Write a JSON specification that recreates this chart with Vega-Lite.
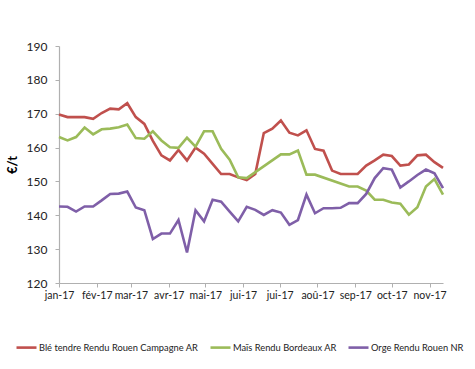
{
  "$schema": "https://vega.github.io/schema/vega-lite/v6.json",
  "autosize": {"type": "none"},
  "width": 384,
  "height": 237,
  "padding": {"left": 59, "top": 46, "right": 32, "bottom": 86},
  "background": "white",
  "config": {
    "view": {"stroke": null},
    "font": "Lato",
    "axis": {"grid": false, "domainColor": "#B0B0B0", "tickColor": "#B0B0B0", "labelColor": "#222", "labelFont": "Lato", "titleFont": "Lato", "domainWidth": 1.2}
  },
  "data": {
    "values": [
      {"date": "2017-01-01", "serie": "Blé tendre Rendu Rouen Campagne AR", "value": 169.8},
      {"date": "2017-01-08", "serie": "Blé tendre Rendu Rouen Campagne AR", "value": 169.0},
      {"date": "2017-01-15", "serie": "Blé tendre Rendu Rouen Campagne AR", "value": 169.0},
      {"date": "2017-01-22", "serie": "Blé tendre Rendu Rouen Campagne AR", "value": 169.0},
      {"date": "2017-01-29", "serie": "Blé tendre Rendu Rouen Campagne AR", "value": 168.5},
      {"date": "2017-02-05", "serie": "Blé tendre Rendu Rouen Campagne AR", "value": 170.2},
      {"date": "2017-02-12", "serie": "Blé tendre Rendu Rouen Campagne AR", "value": 171.5},
      {"date": "2017-02-19", "serie": "Blé tendre Rendu Rouen Campagne AR", "value": 171.3},
      {"date": "2017-02-26", "serie": "Blé tendre Rendu Rouen Campagne AR", "value": 173.1},
      {"date": "2017-03-05", "serie": "Blé tendre Rendu Rouen Campagne AR", "value": 169.0},
      {"date": "2017-03-12", "serie": "Blé tendre Rendu Rouen Campagne AR", "value": 167.0},
      {"date": "2017-03-19", "serie": "Blé tendre Rendu Rouen Campagne AR", "value": 162.0},
      {"date": "2017-03-26", "serie": "Blé tendre Rendu Rouen Campagne AR", "value": 157.7},
      {"date": "2017-04-02", "serie": "Blé tendre Rendu Rouen Campagne AR", "value": 156.2},
      {"date": "2017-04-09", "serie": "Blé tendre Rendu Rouen Campagne AR", "value": 159.3},
      {"date": "2017-04-16", "serie": "Blé tendre Rendu Rouen Campagne AR", "value": 156.2},
      {"date": "2017-04-23", "serie": "Blé tendre Rendu Rouen Campagne AR", "value": 160.0},
      {"date": "2017-04-30", "serie": "Blé tendre Rendu Rouen Campagne AR", "value": 158.2},
      {"date": "2017-05-07", "serie": "Blé tendre Rendu Rouen Campagne AR", "value": 155.2},
      {"date": "2017-05-14", "serie": "Blé tendre Rendu Rouen Campagne AR", "value": 152.2},
      {"date": "2017-05-21", "serie": "Blé tendre Rendu Rouen Campagne AR", "value": 152.2},
      {"date": "2017-05-28", "serie": "Blé tendre Rendu Rouen Campagne AR", "value": 151.2},
      {"date": "2017-06-04", "serie": "Blé tendre Rendu Rouen Campagne AR", "value": 150.4},
      {"date": "2017-06-11", "serie": "Blé tendre Rendu Rouen Campagne AR", "value": 152.2},
      {"date": "2017-06-18", "serie": "Blé tendre Rendu Rouen Campagne AR", "value": 164.3},
      {"date": "2017-06-25", "serie": "Blé tendre Rendu Rouen Campagne AR", "value": 165.6},
      {"date": "2017-07-02", "serie": "Blé tendre Rendu Rouen Campagne AR", "value": 168.0},
      {"date": "2017-07-09", "serie": "Blé tendre Rendu Rouen Campagne AR", "value": 164.4},
      {"date": "2017-07-16", "serie": "Blé tendre Rendu Rouen Campagne AR", "value": 163.6},
      {"date": "2017-07-23", "serie": "Blé tendre Rendu Rouen Campagne AR", "value": 165.1},
      {"date": "2017-07-30", "serie": "Blé tendre Rendu Rouen Campagne AR", "value": 159.6},
      {"date": "2017-08-06", "serie": "Blé tendre Rendu Rouen Campagne AR", "value": 159.1},
      {"date": "2017-08-13", "serie": "Blé tendre Rendu Rouen Campagne AR", "value": 153.2},
      {"date": "2017-08-20", "serie": "Blé tendre Rendu Rouen Campagne AR", "value": 152.2},
      {"date": "2017-08-27", "serie": "Blé tendre Rendu Rouen Campagne AR", "value": 152.2},
      {"date": "2017-09-03", "serie": "Blé tendre Rendu Rouen Campagne AR", "value": 152.2},
      {"date": "2017-09-10", "serie": "Blé tendre Rendu Rouen Campagne AR", "value": 154.7},
      {"date": "2017-09-17", "serie": "Blé tendre Rendu Rouen Campagne AR", "value": 156.2},
      {"date": "2017-09-24", "serie": "Blé tendre Rendu Rouen Campagne AR", "value": 157.9},
      {"date": "2017-10-01", "serie": "Blé tendre Rendu Rouen Campagne AR", "value": 157.5},
      {"date": "2017-10-08", "serie": "Blé tendre Rendu Rouen Campagne AR", "value": 154.7},
      {"date": "2017-10-15", "serie": "Blé tendre Rendu Rouen Campagne AR", "value": 155.0},
      {"date": "2017-10-22", "serie": "Blé tendre Rendu Rouen Campagne AR", "value": 157.7},
      {"date": "2017-10-29", "serie": "Blé tendre Rendu Rouen Campagne AR", "value": 157.9},
      {"date": "2017-11-05", "serie": "Blé tendre Rendu Rouen Campagne AR", "value": 155.7},
      {"date": "2017-11-12", "serie": "Blé tendre Rendu Rouen Campagne AR", "value": 154.0},

      {"date": "2017-01-01", "serie": "Maïs Rendu Bordeaux AR", "value": 163.1},
      {"date": "2017-01-08", "serie": "Maïs Rendu Bordeaux AR", "value": 162.1},
      {"date": "2017-01-15", "serie": "Maïs Rendu Bordeaux AR", "value": 163.1},
      {"date": "2017-01-22", "serie": "Maïs Rendu Bordeaux AR", "value": 165.9},
      {"date": "2017-01-29", "serie": "Maïs Rendu Bordeaux AR", "value": 163.9},
      {"date": "2017-02-05", "serie": "Maïs Rendu Bordeaux AR", "value": 165.4},
      {"date": "2017-02-12", "serie": "Maïs Rendu Bordeaux AR", "value": 165.6},
      {"date": "2017-02-19", "serie": "Maïs Rendu Bordeaux AR", "value": 166.0},
      {"date": "2017-02-26", "serie": "Maïs Rendu Bordeaux AR", "value": 166.8},
      {"date": "2017-03-05", "serie": "Maïs Rendu Bordeaux AR", "value": 162.8},
      {"date": "2017-03-12", "serie": "Maïs Rendu Bordeaux AR", "value": 162.6},
      {"date": "2017-03-19", "serie": "Maïs Rendu Bordeaux AR", "value": 164.8},
      {"date": "2017-03-26", "serie": "Maïs Rendu Bordeaux AR", "value": 162.1},
      {"date": "2017-04-02", "serie": "Maïs Rendu Bordeaux AR", "value": 160.1},
      {"date": "2017-04-09", "serie": "Maïs Rendu Bordeaux AR", "value": 159.9},
      {"date": "2017-04-16", "serie": "Maïs Rendu Bordeaux AR", "value": 162.9},
      {"date": "2017-04-23", "serie": "Maïs Rendu Bordeaux AR", "value": 160.3},
      {"date": "2017-04-30", "serie": "Maïs Rendu Bordeaux AR", "value": 164.8},
      {"date": "2017-05-07", "serie": "Maïs Rendu Bordeaux AR", "value": 164.8},
      {"date": "2017-05-14", "serie": "Maïs Rendu Bordeaux AR", "value": 159.6},
      {"date": "2017-05-21", "serie": "Maïs Rendu Bordeaux AR", "value": 156.4},
      {"date": "2017-05-28", "serie": "Maïs Rendu Bordeaux AR", "value": 151.2},
      {"date": "2017-06-04", "serie": "Maïs Rendu Bordeaux AR", "value": 151.0},
      {"date": "2017-07-02", "serie": "Maïs Rendu Bordeaux AR", "value": 158.0},
      {"date": "2017-07-09", "serie": "Maïs Rendu Bordeaux AR", "value": 158.0},
      {"date": "2017-07-16", "serie": "Maïs Rendu Bordeaux AR", "value": 159.1},
      {"date": "2017-07-23", "serie": "Maïs Rendu Bordeaux AR", "value": 152.0},
      {"date": "2017-07-30", "serie": "Maïs Rendu Bordeaux AR", "value": 152.0},
      {"date": "2017-08-27", "serie": "Maïs Rendu Bordeaux AR", "value": 148.5},
      {"date": "2017-09-03", "serie": "Maïs Rendu Bordeaux AR", "value": 148.5},
      {"date": "2017-09-10", "serie": "Maïs Rendu Bordeaux AR", "value": 147.3},
      {"date": "2017-09-17", "serie": "Maïs Rendu Bordeaux AR", "value": 144.6},
      {"date": "2017-09-24", "serie": "Maïs Rendu Bordeaux AR", "value": 144.6},
      {"date": "2017-10-01", "serie": "Maïs Rendu Bordeaux AR", "value": 143.8},
      {"date": "2017-10-08", "serie": "Maïs Rendu Bordeaux AR", "value": 143.4},
      {"date": "2017-10-15", "serie": "Maïs Rendu Bordeaux AR", "value": 140.2},
      {"date": "2017-10-22", "serie": "Maïs Rendu Bordeaux AR", "value": 142.4},
      {"date": "2017-10-29", "serie": "Maïs Rendu Bordeaux AR", "value": 148.5},
      {"date": "2017-11-05", "serie": "Maïs Rendu Bordeaux AR", "value": 150.7},
      {"date": "2017-11-12", "serie": "Maïs Rendu Bordeaux AR", "value": 146.1},

      {"date": "2017-01-01", "serie": "Orge Rendu Rouen NR", "value": 142.6},
      {"date": "2017-01-08", "serie": "Orge Rendu Rouen NR", "value": 142.5},
      {"date": "2017-01-15", "serie": "Orge Rendu Rouen NR", "value": 141.1},
      {"date": "2017-01-22", "serie": "Orge Rendu Rouen NR", "value": 142.6},
      {"date": "2017-01-29", "serie": "Orge Rendu Rouen NR", "value": 142.6},
      {"date": "2017-02-05", "serie": "Orge Rendu Rouen NR", "value": 144.4},
      {"date": "2017-02-12", "serie": "Orge Rendu Rouen NR", "value": 146.3},
      {"date": "2017-02-19", "serie": "Orge Rendu Rouen NR", "value": 146.4},
      {"date": "2017-02-26", "serie": "Orge Rendu Rouen NR", "value": 147.0},
      {"date": "2017-03-05", "serie": "Orge Rendu Rouen NR", "value": 142.3},
      {"date": "2017-03-12", "serie": "Orge Rendu Rouen NR", "value": 141.5},
      {"date": "2017-03-19", "serie": "Orge Rendu Rouen NR", "value": 133.0},
      {"date": "2017-03-26", "serie": "Orge Rendu Rouen NR", "value": 134.6},
      {"date": "2017-04-02", "serie": "Orge Rendu Rouen NR", "value": 134.6},
      {"date": "2017-04-09", "serie": "Orge Rendu Rouen NR", "value": 138.6},
      {"date": "2017-04-16", "serie": "Orge Rendu Rouen NR", "value": 129.0},
      {"date": "2017-04-23", "serie": "Orge Rendu Rouen NR", "value": 141.5},
      {"date": "2017-04-30", "serie": "Orge Rendu Rouen NR", "value": 138.2},
      {"date": "2017-05-07", "serie": "Orge Rendu Rouen NR", "value": 144.6},
      {"date": "2017-05-14", "serie": "Orge Rendu Rouen NR", "value": 144.0},
      {"date": "2017-05-21", "serie": "Orge Rendu Rouen NR", "value": 141.1},
      {"date": "2017-05-28", "serie": "Orge Rendu Rouen NR", "value": 138.2},
      {"date": "2017-06-04", "serie": "Orge Rendu Rouen NR", "value": 142.5},
      {"date": "2017-06-11", "serie": "Orge Rendu Rouen NR", "value": 141.6},
      {"date": "2017-06-18", "serie": "Orge Rendu Rouen NR", "value": 140.1},
      {"date": "2017-06-25", "serie": "Orge Rendu Rouen NR", "value": 141.5},
      {"date": "2017-07-02", "serie": "Orge Rendu Rouen NR", "value": 140.8},
      {"date": "2017-07-09", "serie": "Orge Rendu Rouen NR", "value": 137.2},
      {"date": "2017-07-16", "serie": "Orge Rendu Rouen NR", "value": 138.6},
      {"date": "2017-07-23", "serie": "Orge Rendu Rouen NR", "value": 146.1},
      {"date": "2017-07-30", "serie": "Orge Rendu Rouen NR", "value": 140.6},
      {"date": "2017-08-06", "serie": "Orge Rendu Rouen NR", "value": 142.1},
      {"date": "2017-08-13", "serie": "Orge Rendu Rouen NR", "value": 142.1},
      {"date": "2017-08-20", "serie": "Orge Rendu Rouen NR", "value": 142.2},
      {"date": "2017-08-27", "serie": "Orge Rendu Rouen NR", "value": 143.6},
      {"date": "2017-09-03", "serie": "Orge Rendu Rouen NR", "value": 143.6},
      {"date": "2017-09-10", "serie": "Orge Rendu Rouen NR", "value": 146.3},
      {"date": "2017-09-17", "serie": "Orge Rendu Rouen NR", "value": 151.0},
      {"date": "2017-09-24", "serie": "Orge Rendu Rouen NR", "value": 153.9},
      {"date": "2017-10-01", "serie": "Orge Rendu Rouen NR", "value": 153.5},
      {"date": "2017-10-08", "serie": "Orge Rendu Rouen NR", "value": 148.2},
      {"date": "2017-10-15", "serie": "Orge Rendu Rouen NR", "value": 150.0},
      {"date": "2017-10-22", "serie": "Orge Rendu Rouen NR", "value": 151.9},
      {"date": "2017-10-29", "serie": "Orge Rendu Rouen NR", "value": 153.5},
      {"date": "2017-11-05", "serie": "Orge Rendu Rouen NR", "value": 152.4},
      {"date": "2017-11-12", "serie": "Orge Rendu Rouen NR", "value": 148.0}
    ]
  },
  "mark": {"type": "line", "strokeWidth": 2.6, "strokeJoin": "miter", "invalid": "filter"},
  "encoding": {
    "x": {
      "field": "date",
      "type": "temporal",
      "scale": {"domain": [{"year": 2017, "month": 1, "date": 1}, {"year": 2017, "month": 11, "date": 12}], "nice": false},
      "axis": {
        "title": null,
        "tickCount": {"interval": "month", "step": 1},
        "labelExpr": "['jan','fév','mar','avr','mai','jui','jui','aoû','sep','oct','nov','déc'][month(datum.value)] + '-17'",
        "labelFontSize": 10.5,
        "tickSize": 4,
        "labelPadding": 3,
        "labelFlush": false,
        "labelOverlap": false
      }
    },
    "y": {
      "field": "value",
      "type": "quantitative",
      "scale": {"domain": [120, 190], "nice": false, "zero": false},
      "axis": {
        "title": "€/t",
        "titleFontSize": 13,
        "titleFontWeight": "bold",
        "titleColor": "#000",
        "titlePadding": 7,
        "values": [120, 130, 140, 150, 160, 170, 180, 190],
        "labelFontSize": 12,
        "tickSize": 4,
        "labelPadding": 8
      }
    },
    "color": {
      "field": "serie",
      "type": "nominal",
      "scale": {
        "domain": ["Blé tendre Rendu Rouen Campagne AR", "Maïs Rendu Bordeaux AR", "Orge Rendu Rouen NR"],
        "range": ["#C0504D", "#9BBB59", "#7F5FA8"]
      },
      "legend": {
        "title": null,
        "orient": "none",
        "direction": "horizontal",
        "legendX": -44,
        "legendY": 290,
        "symbolType": "stroke",
        "symbolSize": 400,
        "symbolStrokeWidth": 2.6,
        "labelFontSize": 9.3,
        "labelFont": "Lato",
        "labelColor": "#222",
        "labelOffset": 1,
        "columnPadding": 6,
        "labelLimit": 300
      }
    }
  }
}
